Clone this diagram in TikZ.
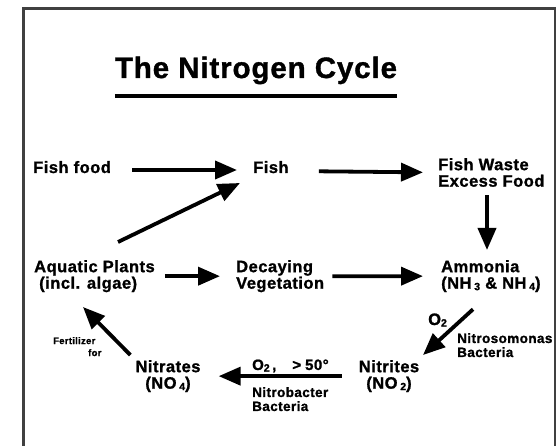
\documentclass[tikz,border=0pt]{standalone}
\usepackage{fontspec}
\setmainfont{Liberation Sans}
\newfontfamily\labfont[LetterSpace=3, BoldFeatures={FakeBold=1.2}]{Liberation Sans}
\newfontfamily\titlefont[LetterSpace=3, BoldFeatures={FakeBold=1.2}]{Liberation Sans}
\usetikzlibrary{arrows.meta,positioning}
\newcommand{\lowdigit}[1]{\raisebox{-1.5pt}{\fontsize{10.5}{10}\selectfont #1}}

\begin{document}
\begin{tikzpicture}[x=1pt, y=-1pt, inner sep=0pt,
  main/.style = {font=\labfont\bfseries\fontsize{16.5}{16.5}\selectfont, align=left},
  small/.style = {font=\labfont\bfseries\fontsize{13.5}{14}\selectfont, align=left},
  arr/.style = {line width=3.8pt, -{Triangle[length=22pt, width=18pt]}}]
  \useasboundingbox (0,0) rectangle (559,446);
  % frame, open at the bottom
  \draw[line width=2.5pt, black!75] (23.5,446) |- (555,8.5) -- (555,446);

  \node[font=\titlefont\bfseries\fontsize{29.5}{30}\selectfont, anchor=base] (title) at (256,78) {The Nitrogen Cycle};
  \draw[line width=3.5pt] ([yshift=-18pt]title.base west) -- ([yshift=-18pt]title.base east);

  \node[main, anchor=base west] (food) at (33,173) {Fish food};
  \node[main, anchor=base west] (fish) at (253,173) {Fish};
  \node[main, anchor=north west] (waste) at (438,158) {Fish Waste\\Excess Food};
  \node[main, anchor=north west] (plants) at (34,260) {Aquatic Plants\\\hspace*{5pt}(incl. algae)};
  \node[main, anchor=north west] (decay) at (236,260) {Decaying\\Vegetation};
  \node[main, anchor=north west] (ammonia) at (441,260) {Ammonia\\(NH\,\lowdigit{3} \& NH\,\lowdigit{4})};
  \node[main, align=center, anchor=north] (nitrites) at (389,360) {Nitrites\\(NO\,\lowdigit{2})};
  \node[main, align=center, anchor=north] (nitrates) at (168,360) {Nitrates\\(NO\,\lowdigit{4})};

  % labels on the arrows
  \node[main, anchor=base west] (o2a) at (428,325) {O\lowdigit{2}};
  \node[small, anchor=north west] (nsomo) at (457,333) {Nitrosomonas\\Bacteria};
  \node[font=\labfont\bfseries\fontsize{15}{15}\selectfont, anchor=base west] (o2b) at (252,370) {O\lowdigit{2}\,,\hspace{16pt}>\hspace{4pt}50°};
  \node[small, anchor=north west] (nbact) at (252,387) {Nitrobacter\\Bacteria};
  \node[font=\labfont\bfseries\fontsize{9.5}{12}\selectfont, align=left, anchor=north west] (fert) at (53,337) {Fertilizer\\\hspace*{35pt}for};
  \coordinate (fertend) at (83,307);

  \draw[arr, shorten <=21pt, shorten >=16pt] ([yshift=3pt]food.base east) -- ([yshift=3pt]fish.base west);
  \draw[arr, shorten <=30pt, shorten >=15pt] ([yshift=2pt]fish.base east) -- (waste.west);
  \draw[arr, shorten <=8pt, shorten >=10pt] ([xshift=49pt]waste.south west) -- ([xshift=46pt]ammonia.north west);
  \draw[arr, shorten <=10pt, shorten >=16pt] (plants.east) -- (decay.west);
  \draw[arr, shorten <=8pt, shorten >=18pt] (decay.east) -- (ammonia.west);
  \draw[arr] ([shift={(84pt,18pt)}]plants.north west) -- ([shift={(-13pt,-10pt)}]fish.base west);
  \draw[arr] ([shift={(32pt,-17pt)}]ammonia.south west) -- ([shift={(34pt,5pt)}]nitrites.north);
  \draw[arr, shorten <=17pt, shorten >=18pt] (nitrites.west) -- (nitrates.east);
  \draw[arr] ([shift={(-5pt,5pt)}]nitrates.north west) -- (fertend);
\end{tikzpicture}
\end{document}
